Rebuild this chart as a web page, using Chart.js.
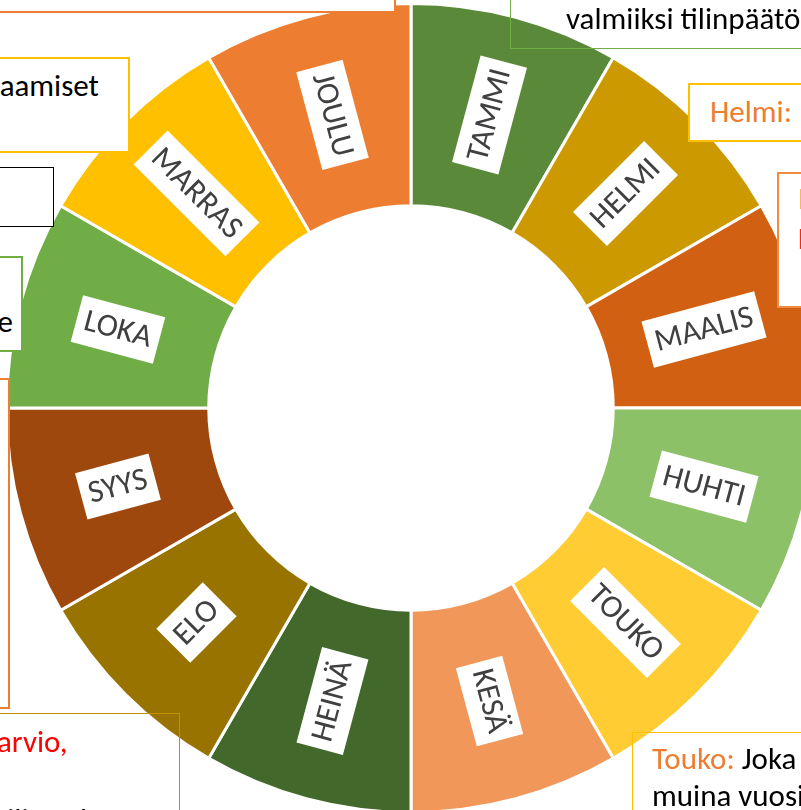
<!DOCTYPE html>
<html><head><meta charset="utf-8">
<script src="https://cdn.jsdelivr.net/npm/chart.js@4/dist/chart.umd.min.js"></script>
<style>
html,body{margin:0;padding:0;width:801px;height:810px;overflow:hidden;background:#fff;}
#wrap{position:relative;width:801px;height:810px;overflow:hidden;}
#c{position:absolute;left:5px;top:2px;}
.box{position:absolute;box-sizing:border-box;}
.t{position:absolute;white-space:nowrap;font-family:Carlito,Calibri,Lato,sans-serif;font-size:31px;line-height:38px;color:#000;}
.or{color:#ED7D31;} .red{color:#FF0000;}
</style></head>
<body>
<div id="wrap">
<canvas id="c" width="812" height="812"></canvas>

<!-- white-filled boxes -->
<div class="box" style="left:-20px;top:-20px;width:416px;height:33px;border:2.5px solid #ED7D31;background:#fff;"></div>
<div class="box" style="left:688px;top:83px;width:140px;height:59px;border:2.5px solid #FFC000;background:#fff;"></div>
<div class="t or" style="left:710px;top:92px;">Helmi:</div>
<div class="box" style="left:777px;top:172px;width:60px;height:136px;border:2.5px solid #F08A45;background:#fff;"></div>
<div class="t or" style="left:798px;top:179px;">Maalis:</div>
<div class="t red" style="left:798px;top:219px;">Hallitus</div>
<div class="box" style="left:-20px;top:57px;width:150px;height:96px;border:2.5px solid #FFC000;background:#fff;"></div>
<div class="t" style="left:-300px;width:399px;text-align:right;top:66px;">Hankinnat ja palkkaamiset</div>
<div class="box" style="left:-20px;top:167px;width:74px;height:60px;border:1.5px solid #000;background:#fff;"></div>
<div class="box" style="left:-20px;top:256px;width:43px;height:96px;border:2.5px solid #70AD47;background:#fff;"></div>
<div class="t" style="left:-300px;width:313px;text-align:right;top:302px;">toimintakertomukse</div>
<div class="box" style="left:-20px;top:378px;width:30px;height:331px;border:2.5px solid #ED7D31;background:#fff;"></div>

<!-- transparent boxes -->
<div class="box" style="left:510px;top:-20px;width:320px;height:69px;border:1.5px solid #70AD47;"></div>
<div class="t" style="left:566px;top:-1px;">valmiiksi tilinpäätös</div>
<div class="box" style="left:-20px;top:713px;width:200px;height:120px;border:1.5px solid #BF9000;"></div>
<div class="t red" style="left:-3px;top:722px;">arvio,</div>
<div class="t" style="left:-3px;top:800px;">tilintarkastus</div>
<div class="box" style="left:632px;top:732px;width:200px;height:100px;border:1.5px solid #FFC000;"></div>
<div class="t" style="left:652px;top:739px;"><span class="or">Touko:</span> Joka</div>
<div class="t" style="left:652px;top:776px;">muina vuosina</div>
</div>

<script>
const months = ['TAMMI','HELMI','MAALIS','HUHTI','TOUKO','KESÄ','HEINÄ','ELO','SYYS','LOKA','MARRAS','JOULU'];
const monthShare = [1,1,1,1,1,1,1,1,1,1,1,1];
const monthColors = ['#5A8A39','#CC9A00','#D26012','#8CC168','#FFCD33','#F1975A','#43682B','#997300','#9E480E','#70AD47','#FFC000','#ED7D31'];

const labelPlugin = {
  id: 'boxLabels',
  afterDatasetsDraw(chart) {
    const ctx = chart.ctx;
    const meta = chart.getDatasetMeta(0);
    ctx.save();
    ctx.font = '32px Carlito, Calibri, Lato, sans-serif';
    ctx.textAlign = 'center';
    ctx.textBaseline = 'middle';
    meta.data.forEach((arc, i) => {
      const p = arc.tooltipPosition();
      const mid = (arc.startAngle + arc.endAngle) / 2;
      let rot = mid;
      if (Math.cos(mid) < -1e-6 || (Math.abs(Math.cos(mid)) < 1e-6 && Math.sin(mid) > 0)) rot = mid - Math.PI;
      const txt = chart.data.labels[i];
      const w = ctx.measureText(txt).width + 16;
      const h = 48;
      ctx.save();
      ctx.translate(p.x, p.y);
      ctx.rotate(rot);
      ctx.fillStyle = '#fff';
      ctx.fillRect(-w/2, -h/2, w, h);
      ctx.fillStyle = '#404040';
      ctx.fillText(txt, 0, 1);
      ctx.restore();
    });
    ctx.restore();
  }
};

new Chart(document.getElementById('c'), {
  type: 'doughnut',
  data: {
    labels: months,
    datasets: [{
      data: monthShare,
      backgroundColor: monthColors,
      borderColor: '#ffffff',
      borderWidth: 3
    }]
  },
  options: {
    responsive: false,
    animation: false,
    cutout: '50%',
    rotation: 0,
    layout: { padding: 0 },
    plugins: { legend: { display: false }, tooltip: { enabled: false } }
  },
  plugins: [labelPlugin]
});
</script>
</body></html>
